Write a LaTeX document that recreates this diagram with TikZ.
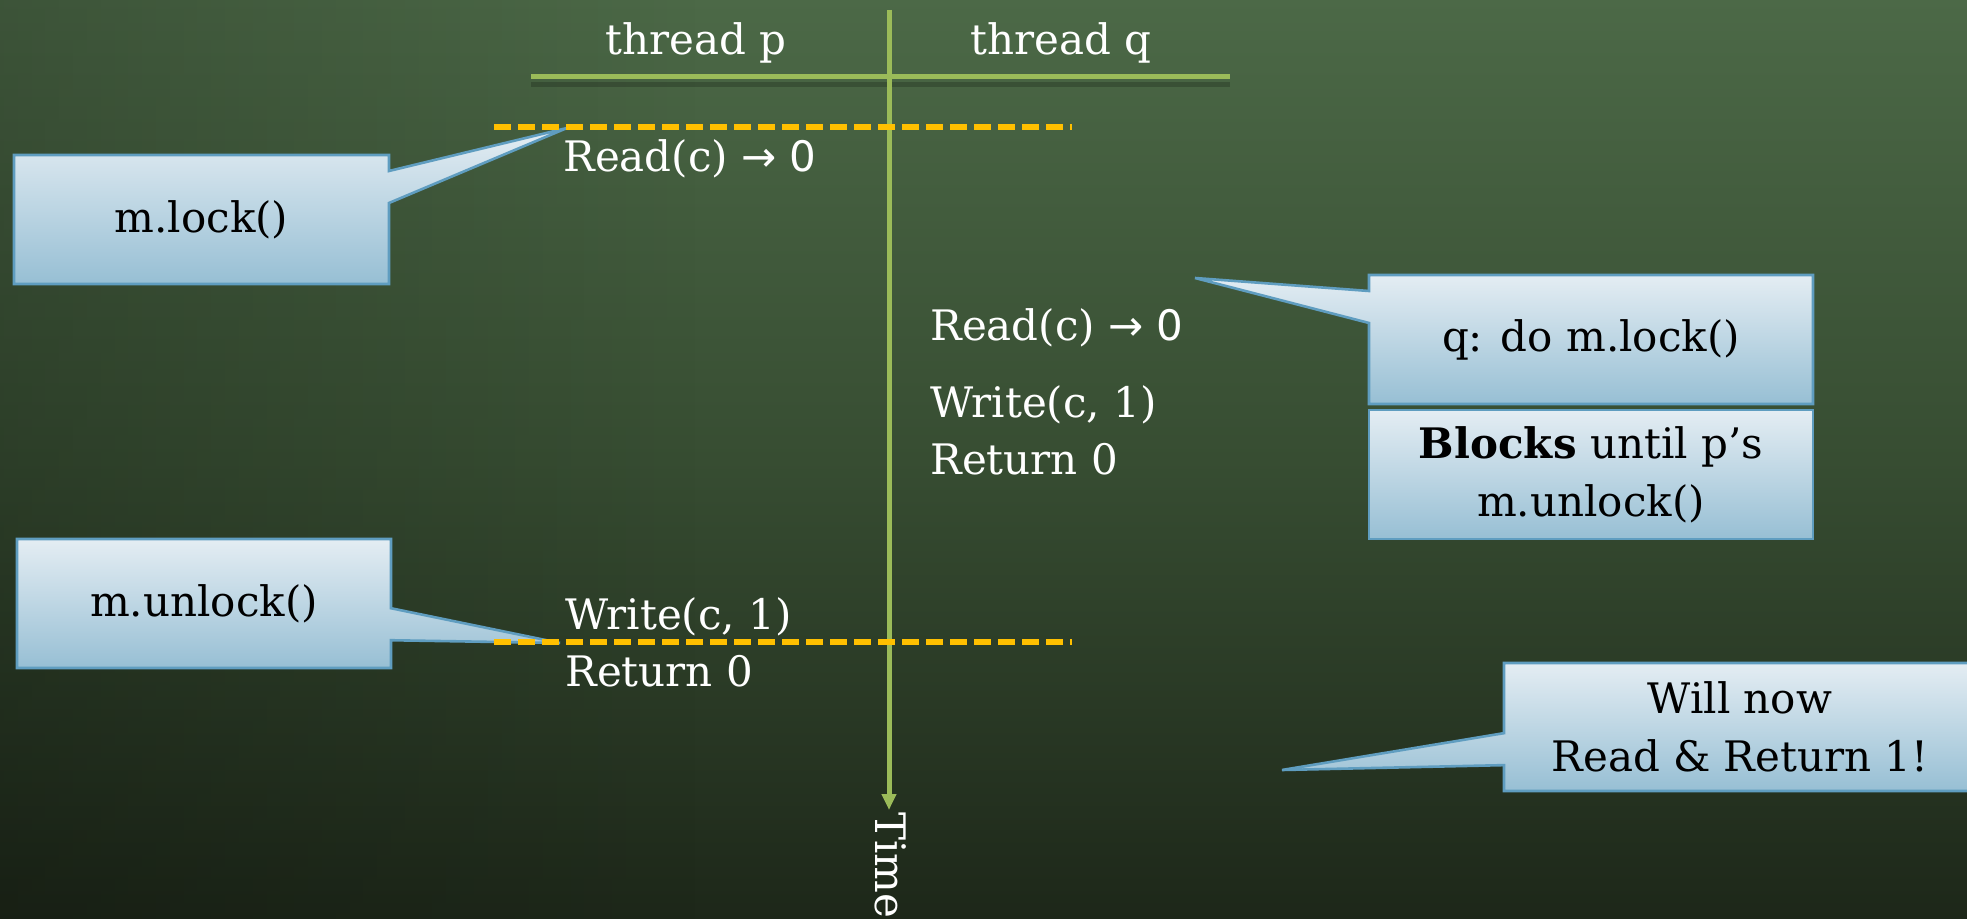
\documentclass[tikz,border=0pt]{standalone}
\usepackage{fontspec}
\setmainfont{DejaVu Serif}
\newfontfamily\symfont{DejaVu Sans}
\usetikzlibrary{arrows.meta,shapes.callouts,fadings}

\definecolor{linegreen}{HTML}{9BBB59}
\definecolor{dashorange}{HTML}{FFC000}
\definecolor{boxtop}{HTML}{E4EDF3}
\definecolor{boxbottom}{HTML}{97BFD4}
\definecolor{boxedge}{HTML}{5F9DC0}
\definecolor{bgtop}{HTML}{4C6947}
\definecolor{bgmid}{HTML}{374D32}
\definecolor{bgbottom}{HTML}{1D2719}

\newcommand\txtfont{\fontsize{21}{29}\selectfont}

\begin{document}
\begin{tikzpicture}[x=0.5pt, y=-0.5pt,
  callbox/.style={rectangle callout, draw=boxedge, line width=1.3pt,
    top color=boxtop, bottom color=boxbottom, inner sep=0pt,
    align=center, font=\txtfont, text=black, callout pointer width=16pt},
  plainbox/.style={rectangle, draw=boxedge, line width=1.3pt,
    top color=boxtop, bottom color=boxbottom, inner sep=0pt,
    align=center, font=\txtfont, text=black},
  tl/.style={text=white, anchor=base west, inner sep=0pt, font=\txtfont},
  axisline/.style={draw=linegreen, line width=2.5pt},
  syncline/.style={draw=dashorange, line width=3pt, dash pattern=on 8.5pt off 3.5pt}
]
\useasboundingbox (0,0) rectangle (1967,919);

% background: dark green, lighter at the top, darker towards the left
\shade[top color=bgtop, bottom color=bgbottom, middle color=bgmid]
  (-2,-2) rectangle (1969,921);
\fill[black, opacity=0.2, path fading=east] (-2,-2) rectangle (700,921);

% axes
\coordinate (hl) at (531,77);
\coordinate (hr) at (1230,77);
\coordinate (vt) at (889,10);
\coordinate (vb) at (889,810);
\draw[black, opacity=.2, line width=2.5pt] ([yshift=-4pt]hl) -- ([yshift=-4pt]hr);
\draw[axisline] (hl) -- (hr);
\draw[axisline, -{Triangle[width=7pt,length=8pt]}] (vt) -- (vb);

\node[text=white, font=\txtfont, anchor=base, inner sep=0pt] (thp) at (696,55) {thread p};
\node[text=white, font=\txtfont, anchor=base, inner sep=0pt] (thq) at (1061,55) {thread q};
\node[tl, rotate=-90] (timelbl) at (875,812) {Time};

% critical section boundaries
\coordinate (s1a) at (494,127);
\coordinate (s1b) at (1072,127);
\coordinate (s2a) at (494,642);
\coordinate (s2b) at (1072,642);

% thread p
\node[tl] (p1) at (563,172) {Read(c) {\symfont → 0}};
\node[tl] (p2) at (565,630) {Write(c, 1)};
\node[tl] (p3) at (565,687) {Return 0};

% thread q
\node[tl] (q1) at (930,341) {Read(c) {\symfont → 0}};
\node[tl] (q2) at (930,418) {Write(c, 1)};
\node[tl] (q3) at (930,475) {Return 0};

% callouts
\coordinate (tipA) at (567,128);
\coordinate (tipB) at (1195,278);
\coordinate (tipC) at (560,643);
\coordinate (tipD) at (1282,770);

\node[callbox, minimum width=187.5pt, minimum height=64.5pt,
  callout absolute pointer={(tipA)}] (lockbox) at (201.5,219.5) {m.lock()};
\node[callbox, minimum width=187pt, minimum height=64.5pt,
  callout absolute pointer={(tipC)}] (unlockbox) at (204,603.5) {m.unlock()};

\draw[syncline] (s1a) -- (s1b);
\draw[syncline] (s2a) -- (s2b);

\node[callbox, minimum width=222pt, minimum height=64.5pt,
  callout absolute pointer={(tipB)}] (qlock) at (1591,339.5) {q: do m.lock()};
\node[plainbox, minimum width=222pt, minimum height=64.5pt] (blocks) at (1591,474.5)
  {\textbf{Blocks} until p’s\\m.unlock()};
\node[callbox, minimum width=236pt, minimum height=64pt,
  callout absolute pointer={(tipD)}] (willnow) at (1740,727) {Will now\\Read \& Return 1!};
\end{tikzpicture}
\end{document}
